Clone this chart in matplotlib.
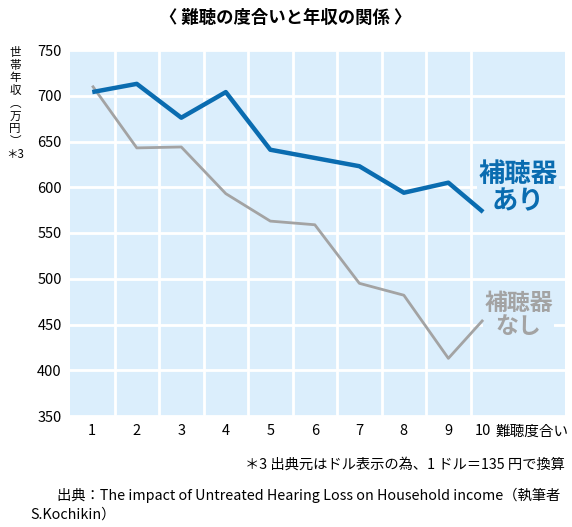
import matplotlib.pyplot as plt

plt.rcParams['font.family'] = ['Noto Sans CJK JP', 'DejaVu Sans']

# 難聴度合い (level 10 sits a bit left of the regular spacing in the original)
levels = [1, 2, 3, 4, 5, 6, 7, 8, 9, 9.78]
tick_labels = ["1", "2", "3", "4", "5", "6", "7", "8", "9"]
with_aid = [704, 713, 676, 704, 641, 632, 623, 594, 605, 573]
without_aid = [711, 643, 644, 593, 563, 559, 495, 482, 413, 455]

ylabel_chars = ["世", "帯", "年", "収", "︵", "万", "円", "︶", "＊3"]

blue = "#0a6cb0"
gray = "#a3a3a3"
bg = "#dbeefc"


def create_graph():
    fig = plt.figure(figsize=(5.72, 5.27), dpi=100)
    ax = fig.add_axes([70 / 572, 1 - 416 / 527, 495 / 572, 366 / 527])
    ax.set_facecolor(bg)

    ax.plot(levels, without_aid, color=gray, lw=2.0, solid_capstyle="butt", zorder=3)
    ax.plot(levels, with_aid, color=blue, lw=3.2, solid_capstyle="butt", zorder=4)

    ax.set_xlim(0.5, 11.62)
    ax.set_ylim(350, 750)
    ax.set_yticks(range(350, 751, 50))
    ax.set_xticks([1.5, 2.5, 3.5, 4.5, 5.5, 6.5, 7.5, 8.5, 9.5], minor=True)
    ax.set_xticks(range(1, 10))
    ax.set_xticklabels(tick_labels)
    ax.grid(True, axis="y", color="white", lw=2)
    ax.grid(True, axis="x", which="minor", color="white", lw=2)
    ax.grid(False, axis="x", which="major")
    ax.set_axisbelow(True)
    ax.tick_params(length=0, labelsize=10.5, pad=6)
    ax.tick_params(axis="x", which="minor", length=0)
    for s in ax.spines.values():
        s.set_visible(False)

    # last category label + axis title on the tick label row
    ax.annotate("10", xy=(levels[-1], 350), xytext=(0, -6),
                textcoords="offset points", ha="center", va="top",
                fontsize=10.5, annotation_clip=False)
    ax.annotate("難聴度合い", xy=(levels[-1], 350), xytext=(9, -6),
                textcoords="offset points", ha="left", va="top",
                fontsize=10.5, annotation_clip=False)

    # series labels sit over the grid but under the lines
    ax.text(10.56, 599, "補聴器\nあり", color=blue, fontsize=19,
            fontweight="bold", ha="center", va="center", linespacing=1.0,
            bbox=dict(fc=bg, ec="none", pad=1), zorder=2.5)
    ax.text(10.58, 460, "補聴器\nなし", color=gray, fontsize=16.5,
            fontweight="bold", ha="center", va="center", linespacing=1.0,
            bbox=dict(fc=bg, ec="none", pad=1), zorder=2.5)

    fig.text(0.5, 1 - 18 / 527, "〈 難聴の度合いと年収の関係 〉", ha="center",
             va="center", fontsize=12.5, fontweight="bold")

    # vertical y-axis title
    fig.text(15 / 572, 1 - 46 / 527, "\n".join(ylabel_chars), ha="center",
             va="top", fontsize=8.3, linespacing=0.97)

    fig.text(565 / 572, 1 - 465 / 527, "＊3 出典元はドル表示の為、1 ドル＝135 円で換算",
             ha="right", va="center", fontsize=10.3)
    fig.text(57 / 572, 1 - 495 / 527,
             "出典：The impact of Untreated Hearing Loss on Household income（執筆者",
             ha="left", va="center", fontsize=10.3)
    fig.text(30 / 572, 1 - 515 / 527, "S.Kochikin）", ha="left", va="center",
             fontsize=10.3)

    fig.savefig("out.png", dpi=100)


def main():
    create_graph()


if __name__ == "__main__":
    main()
